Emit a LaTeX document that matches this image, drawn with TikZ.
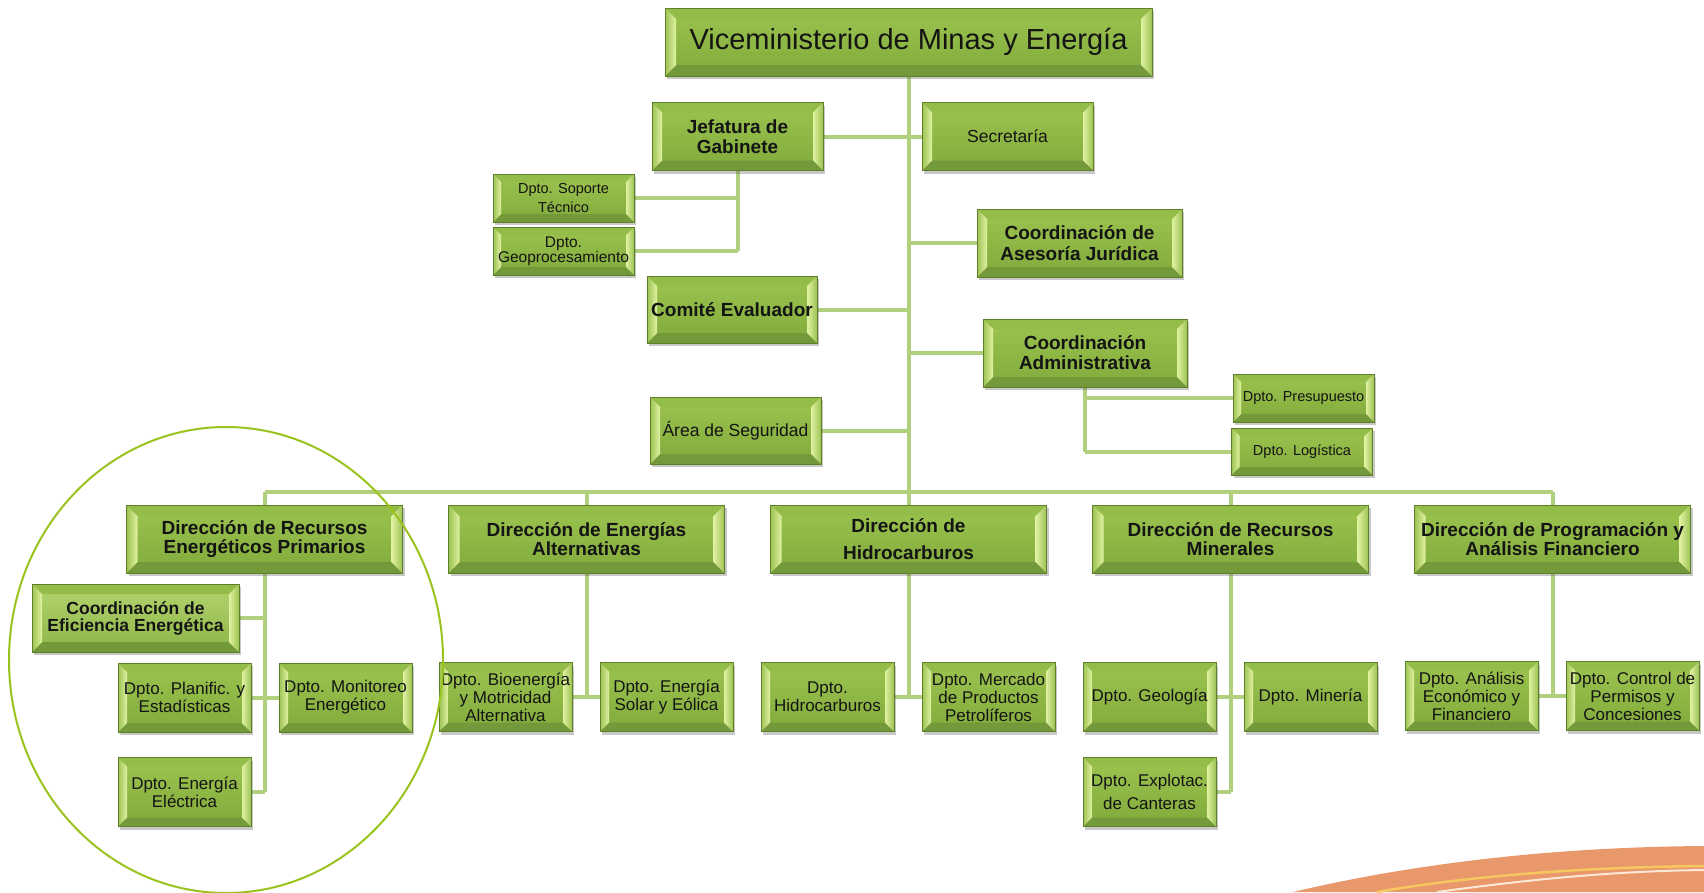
\documentclass[tikz,border=0pt]{standalone}
\usepackage{fontspec}
\setmainfont{Liberation Sans}
\usetikzlibrary{calc,shadows,backgrounds}

\definecolor{facetop}{HTML}{9DC450}
\definecolor{facebot}{HTML}{80AA3B}
\definecolor{efitop}{HTML}{B3D46E}
\definecolor{efibot}{HTML}{8DB548}
\definecolor{edgecol}{HTML}{5E8028}
\definecolor{bevin}{HTML}{E0F2A2}
\definecolor{bevout}{HTML}{9CC252}
\definecolor{bevbot}{HTML}{74993A}
\definecolor{bevtop}{HTML}{94BC48}
\definecolor{conncol}{HTML}{B0D07E}
\definecolor{ringcol}{HTML}{9AC31E}
\definecolor{swooshcol}{HTML}{E8986A}
\definecolor{streakyel}{HTML}{F6C760}
\definecolor{streakwht}{HTML}{FCE8D6}

\newcommand\bevelpic[1]{%
  \coordinate (pnw) at (path picture bounding box.north west);
  \coordinate (pne) at (path picture bounding box.north east);
  \coordinate (psw) at (path picture bounding box.south west);
  \coordinate (pse) at (path picture bounding box.south east);
  \fill[bevtop] (pnw) -- (pne) -- ($(pne)+(-#1,-#1)$) -- ($(pnw)+(#1,-#1)$) -- cycle;
  \fill[bevbot] (psw) -- (pse) -- ($(pse)+(-#1,#1)$) -- ($(psw)+(#1,#1)$) -- cycle;
  \shade[left color=bevout, right color=bevin] (pnw) -- (psw) -- ($(psw)+(#1,#1)$) -- ($(pnw)+(#1,-#1)$) -- cycle;
  \shade[left color=bevin, right color=bevout] (pne) -- (pse) -- ($(pse)+(-#1,#1)$) -- ($(pne)+(-#1,-#1)$) -- cycle;
}

\tikzset{
  box/.style={draw=edgecol, line width=0.7pt, top color=facetop, bottom color=facebot,
    inner sep=0pt, align=center, text=black!92,
    drop shadow={shadow xshift=2pt, shadow yshift=-3pt, opacity=0.3, fill=black!70},
    path picture={\bevelpic{#1}}},
  box/.default=9pt,
  vicebox/.style={box=11pt, minimum width=487pt, minimum height=68pt, font=\fontsize{29}{32}\selectfont},
  midbox/.style={box=10pt, minimum width=171pt, minimum height=68pt},
  tinybox/.style={box=8pt, minimum width=141pt, minimum height=48pt},
  dirbox/.style={box=11pt, minimum width=276pt, minimum height=68pt, font=\fontsize{19}{19}\bfseries},
  dptbox/.style={box=9pt, minimum width=133pt, minimum height=69pt, font=\fontsize{17}{18}\selectfont},
  efibox/.style={box=10pt, top color=efitop, bottom color=efibot, minimum width=207pt, minimum height=68pt, font=\fontsize{17.5}{17}\bfseries},
  conn/.style={draw=conncol, line width=4pt},
  ring/.style={draw=ringcol, line width=2pt}
}

\begin{document}
\begin{tikzpicture}[x=1pt,y=-1pt]
\useasboundingbox (0,0) rectangle (1704,892);

% orange swoosh
\fill[swooshcol] (1293,892) .. controls (1420,862) and (1560,847) .. (1704,846) -- (1704,892) -- cycle;
\draw[streakyel, line width=2.5pt] (1377,892) .. controls (1480,874) and (1600,867) .. (1704,866);
\draw[streakwht, line width=2pt] (1437,892) .. controls (1540,878) and (1620,871) .. (1704,870);

% top group
\node[vicebox] (vice) at (908.5,42) {Viceministerio de Minas y Energía};
\node[midbox, font=\fontsize{19}{20}\bfseries] (jef) at (737.5,136.5) {Jefatura de\\Gabinete};
\node[midbox, font=\fontsize{17.5}{19}\selectfont] (sec) at (1007.5,136.5) {Secretaría};
\node[tinybox, font=\fontsize{14.5}{19}\selectfont] (sop) at (563.5,198) {Dpto. Soporte\\Técnico};
\node[tinybox, font=\fontsize{15.5}{15}\selectfont] (geo) at (563.5,251) {Dpto.\\Geoprocesamiento};
\node[midbox, minimum width=205pt, font=\fontsize{19}{21}\bfseries] (ases) at (1079.5,243) {Coordinación de\\Asesoría Jurídica};
\node[midbox, minimum width=170pt, minimum height=67pt, font=\fontsize{19}{20}\bfseries] (com) at (732,309.5) {Comité Evaluador};
\node[midbox, minimum width=204pt, font=\fontsize{19}{20}\bfseries] (adm) at (1085,353) {Coordinación\\Administrativa};
\node[tinybox, font=\fontsize{14.5}{17}\selectfont] (pre) at (1303.5,398) {Dpto. Presupuesto};
\node[tinybox, minimum height=47pt, font=\fontsize{14.5}{17}\selectfont] (log) at (1302,451.5) {Dpto. Logística};
\node[midbox, minimum height=67pt, font=\fontsize{17.5}{19}\selectfont] (are) at (735.5,430.5) {Área de Seguridad};

% directions
\node[dirbox] (drep) at (264.5,539) {Dirección de Recursos\\Energéticos Primarios};
\node[dirbox] (dea) at (586.5,539) {Dirección de Energías\\Alternativas};
\node[dirbox, font=\fontsize{19}{27}\bfseries] (dh) at (908.5,539) {Dirección de\\Hidrocarburos};
\node[dirbox] (drm) at (1230.5,539) {Dirección de Recursos\\Minerales};
\node[dirbox] (dpaf) at (1552.5,539) {Dirección de Programación y\\Análisis Financiero};

% departments
\node[efibox] (efi) at (135.5,618) {Coordinación de\\Eficiencia Energética};
\node[dptbox] (pla) at (184.5,697.5) {Dpto. Planific. y\\Estadísticas};
\node[dptbox] (mon) at (345.5,697.5) {Dpto. Monitoreo\\Energético};
\node[dptbox] (ele) at (184.5,792) {Dpto. Energía\\Eléctrica};
\node[dptbox] (bio) at (505.5,697) {Dpto. Bioenergía\\y Motricidad\\Alternativa};
\node[dptbox] (sol) at (666.5,697) {Dpto. Energía\\Solar y Eólica};
\node[dptbox] (hid) at (827.5,697) {Dpto.\\Hidrocarburos};
\node[dptbox] (mer) at (988.5,697) {Dpto. Mercado\\de Productos\\Petrolíferos};
\node[dptbox] (gel) at (1149.5,697) {Dpto. Geología};
\node[dptbox] (min) at (1310.5,697) {Dpto. Minería};
\node[dptbox, font=\fontsize{17}{23}\selectfont] (can) at (1149.5,792) {Dpto. Explotac.\\de Canteras};
\node[dptbox] (ana) at (1471.5,696) {Dpto. Análisis\\Económico y\\Financiero};
\node[dptbox] (con) at (1632.5,696) {Dpto. Control de\\Permisos y\\Concesiones};

\coordinate (bar) at (908.5,492);

\begin{scope}[on background layer]
  \fill[white] (0,0) rectangle (1704,892);
  \draw[conn] (vice.south) -- (vice.south |- bar);
  \draw[conn] (drep.north |- bar) -- (dpaf.north |- bar);
  \foreach \d in {drep,dea,dh,drm,dpaf} { \draw[conn] (\d.north |- bar) -- (\d.north); }
  \draw[conn] (jef.east) -- (sec.west);
  \draw[conn] (jef.south) -- (jef.south |- geo.east);
  \draw[conn] (sop.east) -- (sop.east -| jef.south);
  \draw[conn] (geo.east) -- (geo.east -| jef.south);
  \draw[conn] (ases.west) -- (ases.west -| vice.south);
  \draw[conn] (com.east) -- (com.east -| vice.south);
  \draw[conn] (adm.west) -- (adm.west -| vice.south);
  \draw[conn] (are.east) -- (are.east -| vice.south);
  \draw[conn] (adm.south) -- (adm.south |- log.west);
  \draw[conn] (pre.west) -- (pre.west -| adm.south);
  \draw[conn] (log.west) -- (log.west -| adm.south);
  % DREP
  \draw[conn] (drep.south) -- (drep.south |- ele.east);
  \draw[conn] (efi.east) -- (efi.east -| drep.south);
  \draw[conn] (pla.east) -- (mon.west);
  \draw[conn] (ele.east) -- (ele.east -| drep.south);
  % DEA
  \draw[conn] (dea.south) -- (dea.south |- bio.east);
  \draw[conn] (bio.east) -- (sol.west);
  % DH
  \draw[conn] (dh.south) -- (dh.south |- hid.east);
  \draw[conn] (hid.east) -- (mer.west);
  % DRM
  \draw[conn] (drm.south) -- (drm.south |- can.east);
  \draw[conn] (gel.east) -- (min.west);
  \draw[conn] (can.east) -- (can.east -| drm.south);
  % DPAF
  \draw[conn] (dpaf.south) -- (dpaf.south |- ana.east);
  \draw[conn] (ana.east) -- (con.west);
\end{scope}

% highlight ring
\draw[ring] (226,660) ellipse [x radius=217pt, y radius=233pt];
\end{tikzpicture}
\end{document}
